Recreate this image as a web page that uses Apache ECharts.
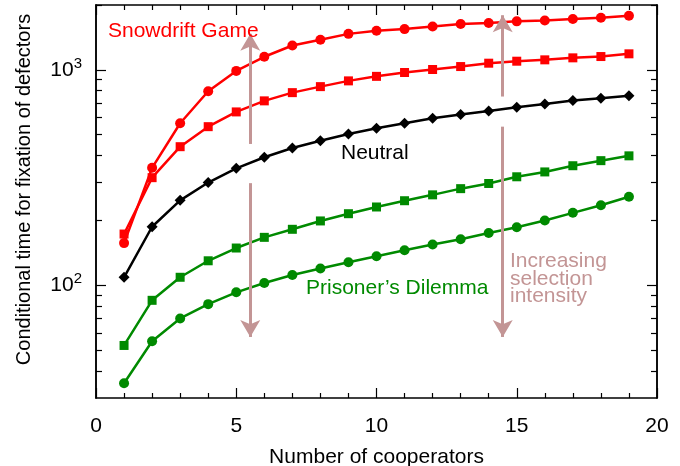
<!DOCTYPE html>
<html>
<head>
<meta charset="utf-8">
<script src="https://cdn.jsdelivr.net/npm/echarts@6/dist/echarts.min.js"></script>
<style>
html,body{margin:0;padding:0;background:#fff;}
#chart{width:680px;height:466px;}
</style>
</head>
<body>
<div id="chart"></div>
<script>
// ---- data ----
const cooperators = [1,2,3,4,5,6,7,8,9,10,11,12,13,14,15,16,17,18,19];
const snowdriftStrong = [157, 351, 565, 796, 989, 1150, 1297, 1379, 1469, 1518, 1546, 1589, 1631, 1649, 1679, 1695, 1722, 1746, 1782];
const snowdriftWeak   = [173, 316, 440, 545, 638, 718, 784, 836, 889, 933, 972, 1004, 1036, 1074, 1097, 1113, 1137, 1153, 1187];
const neutral         = [109, 187, 248, 300, 349, 393, 434, 469, 504, 536, 565, 596, 620, 644, 670, 695, 720, 738, 759];
const prisonersWeak   = [52.6, 85.2, 109, 130, 149, 167, 182, 199, 215, 231, 247, 263, 281, 297, 319, 336, 359, 379, 399];
const prisonersStrong = [35.1, 55, 70.2, 81.8, 92.8, 102.5, 111.6, 119.6, 128, 136.5, 145.5, 154.6, 163.7, 175, 186, 200, 217, 235.5, 257.6];

const xTickLabels = ['0','5','10','15','20'];
const yMajorTicks = [100, 1000];
const yMinorTicks = [40,50,60,70,80,90,200,300,400,500,600,700,800,900,2000];
// arrows: [x, from, to]
const arrowSegments = [
  [5.5, 453, 1470],
  [5.5, 298, 57.6],
  [14.5, 752, 1793],
  [14.5, 545, 57.6]
];

const RED = '#ff0000', GREEN = '#008a00', BLACK = '#000000', ARROW = '#c39595';
const FONT = 'Arial, "Liberation Sans", Helvetica, sans-serif';

function pairs(arr){ return cooperators.map((c,i)=>[c, arr[i]]); }

const chart = echarts.init(document.getElementById('chart'), null, {renderer:'canvas'});

const axisLine = {show:true, lineStyle:{color:'#000', width:1.5}};
function xAx(pos, showLabel){
  return {
    type:'value', position:pos, min:0, max:20, interval:5,
    axisLine: axisLine,
    axisTick:{show:true, inside:true, length:10, lineStyle:{color:'#000', width:1.2}},
    minorTick:{show:true, splitNumber:5, length:5, lineStyle:{color:'#000', width:1.2}},
    splitLine:{show:false}, minorSplitLine:{show:false},
    axisLabel:{show:showLabel, fontSize:21, color:'#000', fontFamily:FONT, margin:18,
      formatter:(v)=> xTickLabels[Math.round(v/5)] || ''},
    name: showLabel ? 'Number of cooperators' : '',
    nameLocation:'middle', nameGap:49,
    nameTextStyle:{fontSize:21, color:'#000', fontFamily:FONT}
  };
}
function yAx(pos, major, showLabel){
  return {
    type:'log', logBase:10, position:pos, min:30, max:2000,
    axisLine: axisLine,
    axisTick:{show:true, inside:true, length: major?10:6, customValues: major?yMajorTicks:yMinorTicks,
      lineStyle:{color:'#000', width:1.2}},
    splitLine:{show:false},
    axisLabel:{show:showLabel, customValues: yMajorTicks, margin:14, color:'#000', fontFamily:FONT,
      formatter:(v)=> '{b|10}{s|' + Math.round(Math.log10(v)) + '}',
      rich:{
        b:{fontSize:21, lineHeight:28, color:'#000', fontFamily:FONT},
        s:{fontSize:15, verticalAlign:'top', lineHeight:28, color:'#000', fontFamily:FONT}
      }},
    name: showLabel ? 'Conditional time for fixation of defectors' : '',
    nameLocation:'middle', nameGap:62, nameRotate:90,
    nameTextStyle:{fontSize:20, color:'#000', fontFamily:FONT, padding:[0,0,0,24]}
  };
}

function lineSeries(name, arr, color, symbol, size){
  return {
    name, type:'line', xAxisIndex:0, yAxisIndex:0,
    data: pairs(arr), color,
    symbol, symbolSize:size,
    lineStyle:{color, width:2.5},
    itemStyle:{color},
    animation:false, z:3
  };
}

const option = {
  animation:false,
  backgroundColor:'#fff',
  grid:{left:96, right:23, top:5, bottom:68, containLabel:false, outerBoundsMode:'none'},
  xAxis:[ xAx('bottom', true), xAx('top', false) ],
  yAxis:[ yAx('left', true, true), yAx('left', false, false), yAx('right', true, false), yAx('right', false, false) ],
  series:[
    lineSeries('Snowdrift strong', snowdriftStrong, RED, 'circle', 10),
    lineSeries('Snowdrift weak', snowdriftWeak, RED, 'rect', 9),
    lineSeries('Neutral', neutral, BLACK, 'diamond', 11),
    lineSeries('PD weak', prisonersWeak, GREEN, 'rect', 9),
    lineSeries('PD strong', prisonersStrong, GREEN, 'circle', 10),
    {
      type:'line', xAxisIndex:0, yAxisIndex:0, data:[], z:5,
      markLine:{
        silent:true, animation:false,
        symbol:['none','arrow'], symbolSize:[15,17],
        label:{show:false},
        lineStyle:{color:ARROW, width:3, type:'solid'},
        data: arrowSegments.map(a => [{coord:[a[0], a[1]]}, {coord:[a[0], a[2]]}])
      }
    }
  ],
  graphic:[
    {type:'text', left:108, top:21, z:10, style:{text:'Snowdrift Game', fill:RED, font:'21px '+FONT}},
    {type:'text', left:341, top:143, z:10, style:{text:'Neutral', fill:BLACK, font:'21px '+FONT}},
    {type:'text', left:306, top:278, z:10, style:{text:'Prisoner\u2019s Dilemma', fill:GREEN, font:'21px '+FONT}},
    {type:'text', left:510, top:251, z:10, style:{text:'Increasing\nselection\nintensity', fill:ARROW, font:'21px '+FONT, lineHeight:17.3}}
  ]
};
chart.setOption(option);
</script>
</body>
</html>
